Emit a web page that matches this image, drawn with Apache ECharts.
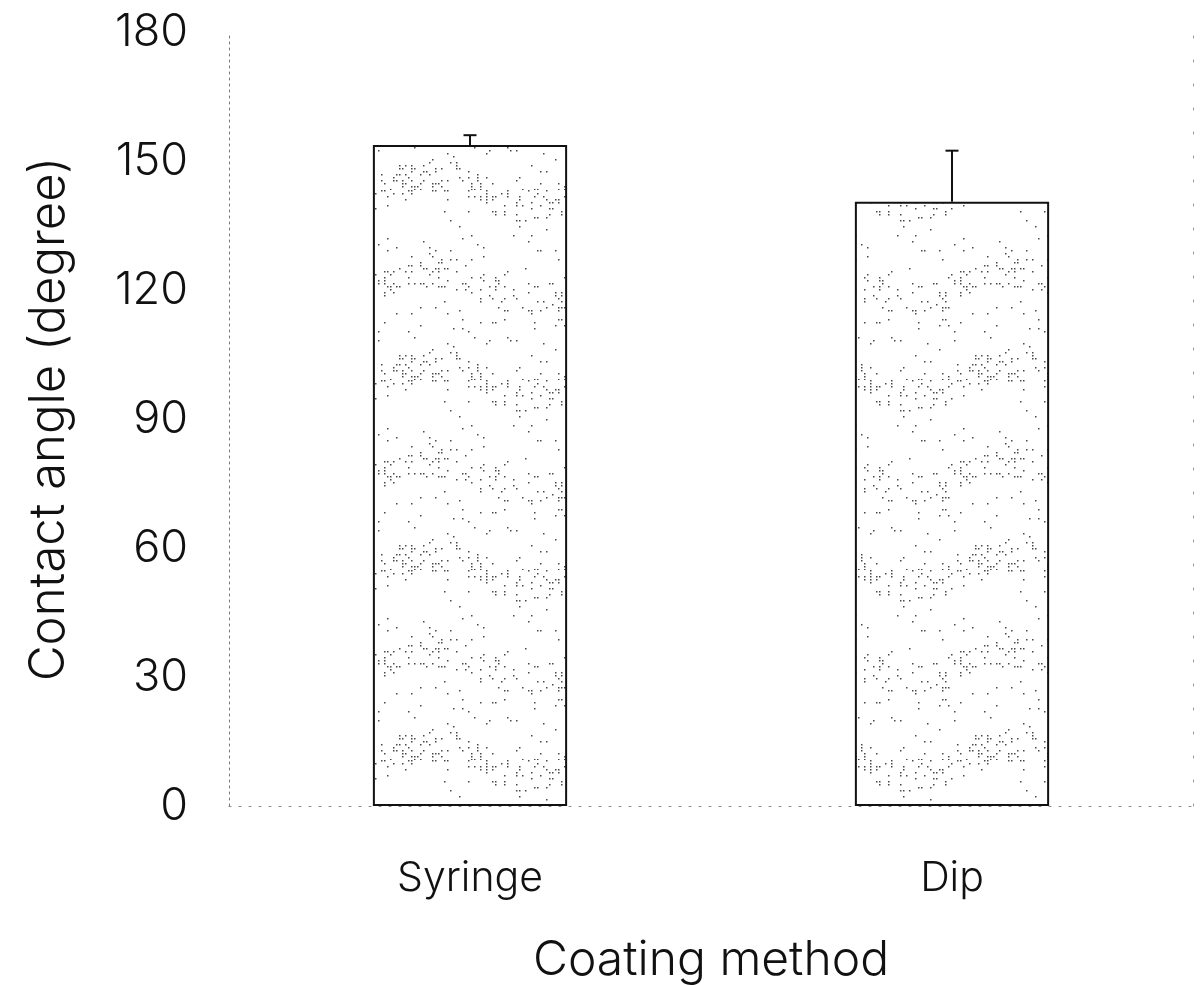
<!DOCTYPE html>
<html>
<head>
<meta charset="utf-8">
<script src="https://cdn.jsdelivr.net/npm/echarts@6/dist/echarts.min.js"></script>
<style>
  html, body { margin: 0; padding: 0; background: #fff; overflow: hidden; }
  #chart { width: 1202px; height: 985px; }
</style>
</head>
<body>
<div id="chart"></div>
<script>
// Contact angle by coating method (mean with upper SD whisker)
const categories = ['Syringe', 'Dip'];
const meanAngle = [153.7, 140.5];
const sdAngle = [2.3, 11.9];
const yTicks = [0, 30, 60, 90, 120, 150, 180];

const font = 'Inter, "Liberation Sans", sans-serif';
const weight = 300;

// Stippled fill texture for the bars: sparse dots gathered in wavy bands
function stipplePattern() {
  const w = 192, h = 190;
  const c = document.createElement('canvas');
  c.width = w; c.height = h;
  const ctx = c.getContext('2d');
  ctx.fillStyle = '#fff';
  ctx.fillRect(0, 0, w, h);
  ctx.fillStyle = 'rgba(40,40,40,0.85)';
  const hash = (x, y) => {
    const s = Math.sin(x * 12.9898 + y * 78.233) * 43758.5453;
    return s - Math.floor(s);
  };
  for (let y = 0; y < h; y += 3) {
    for (let x = 0; x < w; x += 3) {
      const band = Math.cos(((y + 16 * Math.sin(x / w * Math.PI * 2)) / h) * Math.PI * 4);
      const p = band > 0.45 ? 0.17 : 0.025;
      if (hash(x, y) < p) ctx.fillRect(x, y, 1.5, 1.5);
    }
  }
  return c;
}

const chart = echarts.init(document.getElementById('chart'));
const errData = categories.map((c, i) => [i, meanAngle[i], meanAngle[i] + sdAngle[i]]);
const dotted = { color: '#888', width: 1, type: [2, 8] };

chart.setOption({
  animation: false,
  backgroundColor: '#fff',
  grid: { left: 229, right: 9, top: 32, bottom: 179, containLabel: false, outerBoundsMode: 'none' },
  xAxis: {
    type: 'category',
    data: categories,
    name: 'Coating method',
    nameLocation: 'middle',
    nameGap: 131,
    nameTextStyle: { fontFamily: font, fontWeight: weight, fontSize: 48, color: '#111' },
    axisLine: { show: true, lineStyle: dotted },
    axisTick: { show: false },
    axisLabel: { fontFamily: font, fontWeight: weight, fontSize: 41, color: '#111', margin: 52 }
  },
  yAxis: [
    {
      type: 'value',
      min: 0, max: 180, interval: 30,
      name: 'Contact angle (degree)',
      nameLocation: 'middle',
      nameGap: 155,
      nameTextStyle: { fontFamily: font, fontWeight: weight, fontSize: 49, color: '#111' },
      axisLine: { show: true, lineStyle: { color: '#777', width: 1, type: [2, 4] } },
      axisTick: { show: false },
      splitLine: { show: false },
      axisLabel: {
        fontFamily: font, fontWeight: weight, fontSize: 45, color: '#111', margin: 41,
        formatter: v => (yTicks.includes(v) ? String(v) : '')
      }
    },
    {
      type: 'value',
      position: 'right',
      min: 0, max: 180, interval: 30,
      axisLine: { show: true, lineStyle: { color: '#999', width: 1, type: [2, 22] } },
      axisTick: { show: false },
      axisLabel: { show: false },
      splitLine: { show: false }
    }
  ],
  series: [
    {
      type: 'bar',
      data: meanAngle,
      barWidth: '40.3%',
      itemStyle: {
        color: { image: stipplePattern(), repeat: 'repeat' },
        borderColor: '#111',
        borderWidth: 2
      }
    },
    {
      type: 'custom',
      data: errData,
      z: 5,
      renderItem: (params, api) => {
        const x = api.value(0);
        const lo = api.coord([x, api.value(1)]);
        const hi = api.coord([x, api.value(2)]);
        const cap = 13;
        const st = { stroke: '#111', lineWidth: 2 };
        return {
          type: 'group',
          children: [
            { type: 'line', shape: { x1: lo[0], y1: lo[1], x2: hi[0], y2: hi[1] }, style: st },
            { type: 'line', shape: { x1: hi[0] - cap / 2, y1: hi[1], x2: hi[0] + cap / 2, y2: hi[1] }, style: st }
          ]
        };
      }
    }
  ]
});
</script>
</body>
</html>
